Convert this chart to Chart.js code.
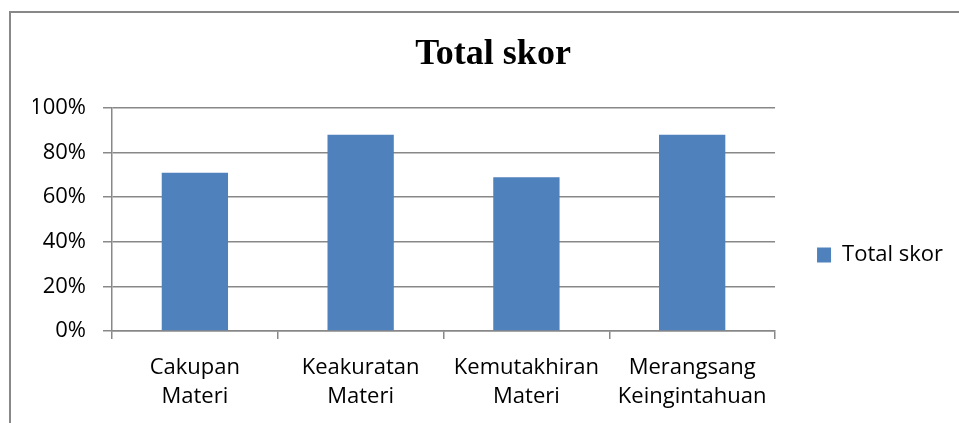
<!DOCTYPE html>
<html>
<head>
<meta charset="utf-8">
<title>Total skor</title>
<script src="https://cdn.jsdelivr.net/npm/chart.js@4.4.1/dist/chart.umd.min.js"></script>
<style>
    html, body { margin: 0; padding: 0; background: #fff; overflow: hidden; }
    /* the chart frame runs past the right and bottom edge of the window */
    #frame { position: absolute; left: 9px; top: 11px; width: 964px; height: 484px; border: 2px solid #888; }
    #chart { display: block; }
</style>
</head>
<body>
<div id="frame"><canvas id="chart" width="964" height="484"></canvas></div>
<script>
// Data
const categories = [
    ['Cakupan', 'Materi'],
    ['Keakuratan', 'Materi'],
    ['Kemutakhiran', 'Materi'],
    ['Merangsang', 'Keingintahuan']
];
const seriesName = 'Total skor';
const totalSkor = [71, 88, 69, 88];
const yMin = 0;
const yMax = 100;
const yStep = 20;

const axisGray = '#888888';
const labelFont = { family: '"Open Sans", sans-serif', size: 22, lineHeight: 1.32 };

const data = {
    labels: categories,
    datasets: [{
        label: seriesName,
        data: totalSkor,
        backgroundColor: '#4F81BD',
        borderWidth: 0,
        barPercentage: 0.4,
        categoryPercentage: 1.0
    }]
};

const config = {
    type: 'bar',
    data: data,
    options: {
        responsive: false,
        animation: false,
        devicePixelRatio: 1,
        layout: { padding: { left: 22, right: 22, top: 0, bottom: 0 } },
        plugins: {
            title: {
                display: true,
                text: 'Total skor',
                color: '#000',
                font: { family: '"Liberation Serif", serif', size: 36, weight: 'bold', lineHeight: 1.2 },
                padding: { top: 20, bottom: 31.8 }
            },
            legend: {
                position: 'right',
                maxWidth: 178,
                labels: {
                    color: '#000',
                    font: labelFont,
                    boxWidth: 14,
                    boxHeight: 15,
                    padding: 42
                }
            },
            tooltip: { enabled: false }
        },
        scales: {
            x: {
                grid: {
                    drawOnChartArea: false,
                    drawTicks: true,
                    tickLength: 8,
                    color: axisGray,
                    lineWidth: 1.5
                },
                border: { display: true, color: axisGray, width: 1.5 },
                ticks: { color: '#000', font: labelFont, padding: 14, maxRotation: 0 },
                afterFit: function (scale) { scale.height = 166; }
            },
            y: {
                min: yMin,
                max: yMax,
                grid: {
                    color: axisGray,
                    lineWidth: 1.5,
                    tickLength: 9
                },
                border: { display: true, color: axisGray, width: 1.5 },
                ticks: {
                    stepSize: yStep,
                    color: '#000',
                    font: { family: '"Open Sans", sans-serif', size: 22 },
                    padding: 17,
                    callback: function (value) { return value + '%'; }
                },
                afterFit: function (scale) { scale.width = 79; }
            }
        }
    }
};

const chart = new Chart(document.getElementById('chart'), config);
</script>
</body>
</html>
